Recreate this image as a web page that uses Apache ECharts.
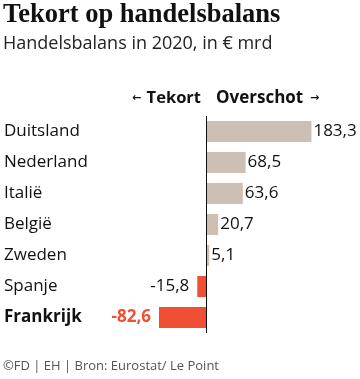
<!DOCTYPE html>
<html>
<head>
<meta charset="utf-8">
<script src="https://cdn.jsdelivr.net/npm/echarts@6/dist/echarts.min.js"></script>
<style>
html,body{margin:0;padding:0;background:#fff;}
#c{width:360px;height:379px;}
</style>
</head>
<body>
<div id="c"></div>
<script>
const categories = ['Duitsland', 'Nederland', 'Italië', 'België', 'Zweden', 'Spanje', 'Frankrijk'];
const values = [183.3, 68.5, 63.6, 20.7, 5.1, -15.8, -82.6];
const highlight = 'Frankrijk';

const FONT = '"Open Sans"';
const POS = '#cdbfb4';
const NEG = '#f04f33';
const fmt = v => String(v).replace('.', ',');

const data = values.map((v, i) => {
  const neg = v < 0;
  const hl = categories[i] === highlight;
  return {
    value: v,
    itemStyle: { color: neg ? NEG : POS },
    label: {
      show: true,
      position: neg ? 'left' : 'right',
      distance: neg ? 8 : 2,
      color: hl ? NEG : '#111',
      fontWeight: hl ? 'bold' : 'normal'
    }
  };
});

const chart = echarts.init(document.getElementById('c'), null, { renderer: 'canvas' });
chart.setOption({
  animation: false,
  backgroundColor: '#fff',
  grid: { left: 149, top: 116, width: 172, height: 217, containLabel: false },
  xAxis: {
    type: 'value', min: -100, max: 200, show: false
  },
  yAxis: {
    type: 'category', data: categories, inverse: true,
    axisLine: { show: false, onZero: false },
    axisTick: { show: false },
    axisLabel: {
      align: 'left', margin: 145,
      formatter: v => v === highlight ? '{b|' + v + '}' : '{n|' + v + '}',
      rich: {
        n: { fontFamily: FONT, fontSize: 17, color: '#111' },
        b: { fontFamily: FONT, fontSize: 17, color: '#111', fontWeight: 'bold' }
      }
    }
  },
  series: [{
    type: 'bar',
    data: data,
    barWidth: 21,
    label: { fontFamily: FONT, fontSize: 17, formatter: p => fmt(p.value) },
    markLine: {
      silent: true, symbol: 'none',
      label: { show: false },
      lineStyle: { color: '#111', width: 1, type: 'solid' },
      data: [{ xAxis: 0 }]
    }
  }],
  graphic: [
    { type: 'text', left: 3, top: 2, style: { text: 'Tekort op handelsbalans', font: 'bold 26.5px "Liberation Serif"', fill: '#111' } },
    { type: 'text', left: 3, top: 35, style: { text: 'Handelsbalans in 2020, in € mrd', font: '18px ' + FONT, fill: '#222' } },
    { type: 'text', x: 201, y: 98, style: { text: 'Tekort', font: 'bold 16.5px ' + FONT, fill: '#111', textAlign: 'right', textVerticalAlign: 'middle' } },
    { type: 'text', x: 216, y: 98, style: { text: 'Overschot', font: 'bold 17px ' + FONT, fill: '#111', textAlign: 'left', textVerticalAlign: 'middle' } },
    { type: 'text', x: 136.5, y: 98, style: { text: '←', font: 'bold 11px "DejaVu Sans"', fill: '#111', textAlign: 'center', textVerticalAlign: 'middle' } },
    { type: 'text', x: 314.5, y: 98, style: { text: '→', font: 'bold 11px "DejaVu Sans"', fill: '#111', textAlign: 'center', textVerticalAlign: 'middle' } },
    { type: 'text', left: 3, top: 360, style: { text: '©FD | EH | Bron: Eurostat/ Le Point', font: '13px ' + FONT, fill: '#555' } }
  ]
});
</script>
</body>
</html>
